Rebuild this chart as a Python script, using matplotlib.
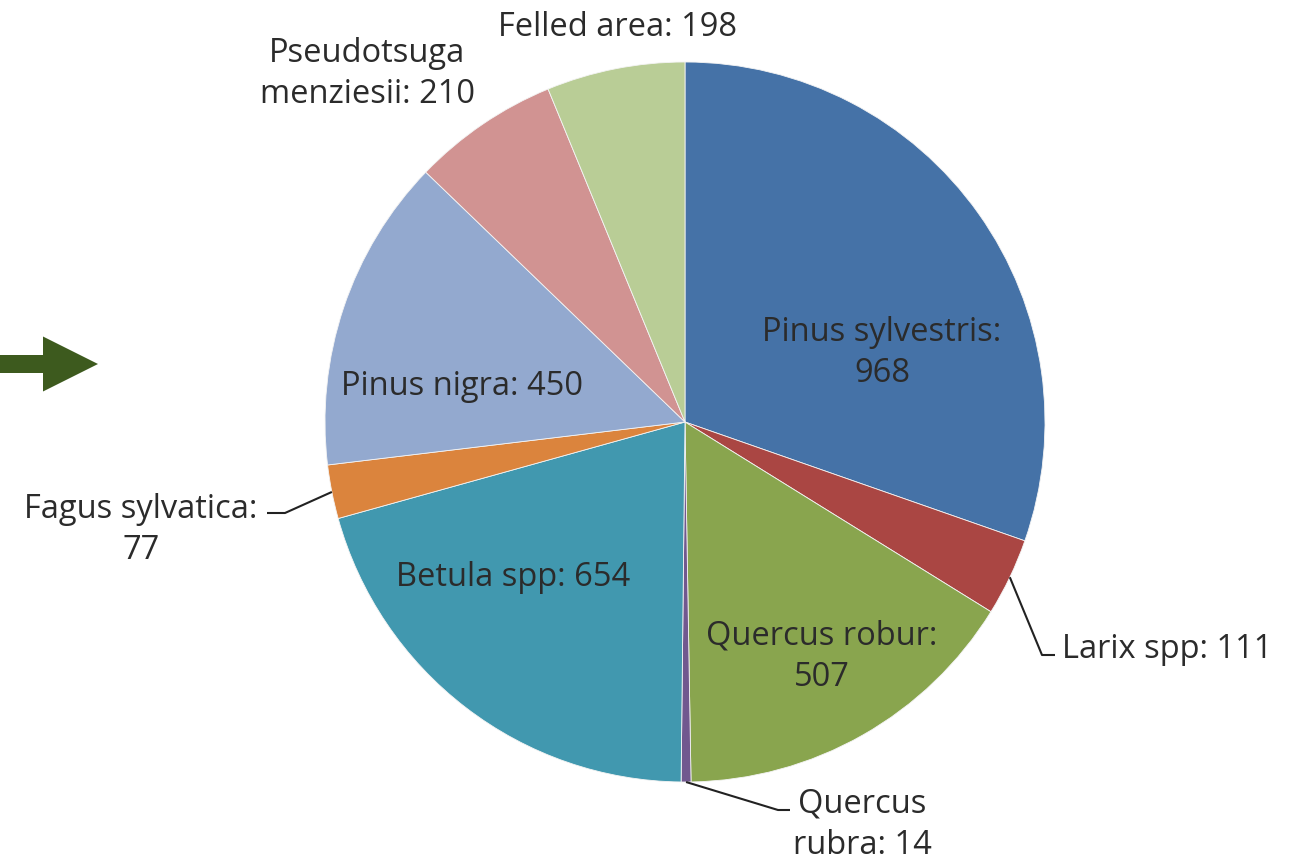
import numpy as np
import matplotlib.pyplot as plt
from matplotlib.patches import FancyArrow

species = ['Pinus sylvestris', 'Larix spp', 'Quercus robur', 'Quercus rubra',
           'Betula spp', 'Fagus sylvatica', 'Pinus nigra',
           'Pseudotsuga menziesii', 'Felled area']
counts = [968, 111, 507, 14, 654, 77, 450, 210, 198]
colors = ['#4572A7', '#AA4643', '#89A54E', '#71588F', '#4198AF',
          '#DB843D', '#93A9CF', '#D19392', '#B9CD96']

plt.rcParams['font.family'] = ['Open Sans', 'DejaVu Sans']

W, H = 1290, 863
fig = plt.figure(figsize=(W / 100, H / 100), dpi=100)
ax = fig.add_axes([0, 0, 1, 1])

cx, cy, r = 685, H - 422, 360
wedges, _ = ax.pie(counts, colors=colors, startangle=90, counterclock=False,
                   center=(cx, cy), radius=r, frame=True,
                   wedgeprops=dict(linewidth=0.6, edgecolor='#f4f4f4'))
ax.set_xlim(0, W)
ax.set_ylim(0, H)
ax.axis('off')

txt = dict(fontsize=23.5, color='#2b2b2b', ha='center', va='center', linespacing=1.35)


def y(py):
    return H - py


# labels inside the pie
ax.text(882, y(353), 'Pinus sylvestris:\n968', **txt)
ax.text(822, y(657), 'Quercus robur:\n507', **txt)
ax.text(513, y(578), 'Betula spp: 654', **txt)
ax.text(462, y(387), 'Pinus nigra: 450', **txt)
# labels outside the pie
ax.text(367, y(74), 'Pseudotsuga\nmenziesii: 210', **txt)
ax.text(618, y(28), 'Felled area: 198', **txt)
ax.text(1062, y(650), 'Larix spp: 111', **{**txt, 'ha': 'left'})
ax.text(862, y(825), 'Quercus\nrubra: 14', **txt)
ax.text(141, y(530), 'Fagus sylvatica:\n77', **txt)


def edge_point(i):
    w = wedges[i]
    a = np.deg2rad((w.theta1 + w.theta2) / 2)
    return cx + r * np.cos(a), cy + r * np.sin(a)


leader = dict(color='#222222', lw=1.5, solid_capstyle='butt')
x0, y0 = edge_point(1)
ax.plot([x0, 1042, 1055], [y0, y(655), y(655)], **leader)
x0, y0 = edge_point(3)
ax.plot([x0, 778, 790], [y0, y(810), y(810)], **leader)
x0, y0 = edge_point(5)
ax.plot([x0, 285, 267], [y0, y(513), y(513)], **leader)

# green arrow on the left
ax.add_patch(FancyArrow(0, y(364), 98, 0, width=18, head_width=55,
                        head_length=55, length_includes_head=True,
                        color='#3D5A1E', lw=0))

fig.savefig('out.png', dpi=100)
